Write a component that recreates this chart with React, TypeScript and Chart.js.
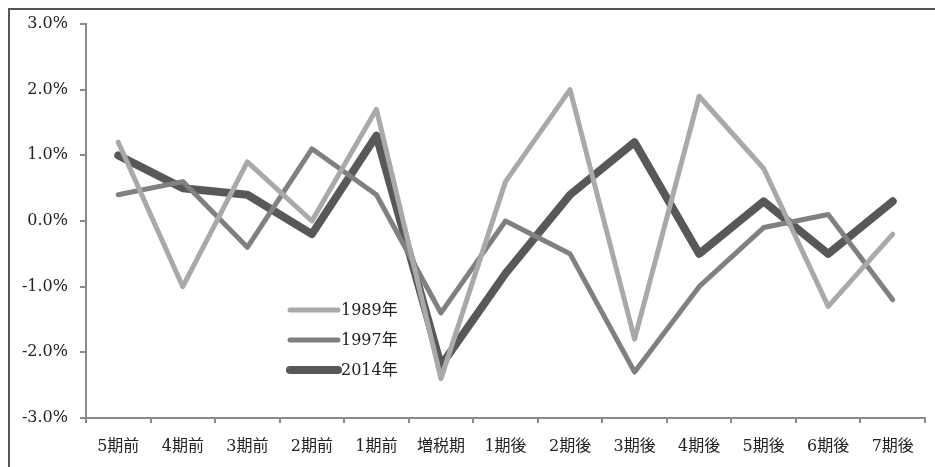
import React, { useEffect, useRef } from "react";
import { Chart, registerables } from "chart.js";

Chart.register(...registerables);

const categories = [
  "5期前", "4期前", "3期前", "2期前", "1期前", "増税期",
  "1期後", "2期後", "3期後", "4期後", "5期後", "6期後", "7期後",
];

const series1989 = [1.2, -1.0, 0.9, 0.0, 1.7, -2.4, 0.6, 2.0, -1.8, 1.9, 0.8, -1.3, -0.2];
const series1997 = [0.4, 0.6, -0.4, 1.1, 0.4, -1.4, 0.0, -0.5, -2.3, -1.0, -0.1, 0.1, -1.2];
const series2014 = [1.0, 0.5, 0.4, -0.2, 1.3, -2.2, -0.8, 0.4, 1.2, -0.5, 0.3, -0.5, 0.3];

const seriesLabels = ["1989年", "1997年", "2014年"];
const yTicks = [-3, -2, -1, 0, 1, 2, 3];

const AXIS_COLOR = "#8a8a8a";
const TEXT_COLOR = "#222222";
const FONT_FAMILY = "'DejaVu Serif', 'Liberation Serif', 'Noto Sans CJK JP', serif";

// Legend drawn inside the plot area, below the left half of the lines
const insideLegend = {
  id: "insideLegend",
  afterDatasetsDraw(chart: any) {
    const { ctx } = chart;
    const x0 = 290;
    const lineLen = 48;
    const rowY = [310, 340, 370];
    ctx.save();
    ctx.font = `16px ${FONT_FAMILY}`;
    ctx.textBaseline = "middle";
    ctx.textAlign = "left";
    chart.data.datasets.forEach((ds: any, i: number) => {
      const y = rowY[i];
      ctx.strokeStyle = ds.borderColor;
      ctx.lineWidth = ds.borderWidth;
      ctx.lineCap = "round";
      ctx.beginPath();
      ctx.moveTo(x0, y);
      ctx.lineTo(x0 + lineLen, y);
      ctx.stroke();
      ctx.fillStyle = TEXT_COLOR;
      ctx.fillText(ds.label, x0 + lineLen + 3, y + 1);
    });
    ctx.restore();
  },
};

export default function App() {
  const canvasRef = useRef<HTMLCanvasElement | null>(null);

  useEffect(() => {
    if (!canvasRef.current) return;
    const lineStyle = {
      pointRadius: 0,
      pointHoverRadius: 0,
      borderJoinStyle: "round" as const,
      borderCapStyle: "round" as const,
      tension: 0,
      fill: false,
    };
    const chart = new Chart(canvasRef.current, {
      type: "line",
      data: {
        labels: categories,
        datasets: [
          { label: seriesLabels[0], data: series1989, borderColor: "#a9a9ab", borderWidth: 5, ...lineStyle },
          { label: seriesLabels[1], data: series1997, borderColor: "#808082", borderWidth: 5, ...lineStyle },
          { label: seriesLabels[2], data: series2014, borderColor: "#58585a", borderWidth: 8, ...lineStyle },
        ],
      },
      options: {
        animation: false,
        responsive: false,
        maintainAspectRatio: false,
        layout: { padding: { left: 0, right: 10, top: 24, bottom: 0 } },
        plugins: {
          legend: { display: false },
          tooltip: { enabled: false },
        },
        scales: {
          x: {
            type: "category",
            offset: true,
            afterFit(scale: any) {
              scale.height = 49;
            },
            grid: {
              offset: true,
              drawOnChartArea: false,
              drawTicks: true,
              tickLength: 5,
              color: AXIS_COLOR,
              lineWidth: 2,
            },
            border: { display: true, color: AXIS_COLOR, width: 2 },
            ticks: {
              color: TEXT_COLOR,
              font: { family: FONT_FAMILY, size: 16 },
              padding: 14,
              maxRotation: 0,
              autoSkip: false,
            },
          },
          y: {
            min: -3,
            max: 3,
            afterFit(scale: any) {
              scale.width = 86;
            },
            afterBuildTicks(scale: any) {
              scale.ticks = yTicks.map((v) => ({ value: v }));
            },
            grid: {
              drawOnChartArea: false,
              drawTicks: true,
              tickLength: 6,
              color: AXIS_COLOR,
              lineWidth: 2,
            },
            border: { display: true, color: AXIS_COLOR, width: 2 },
            ticks: {
              color: TEXT_COLOR,
              font: { family: FONT_FAMILY, size: 16 },
              padding: 12,
              callback: (v: any) => `${Number(v).toFixed(1)}%`,
            },
          },
        },
      },
      plugins: [insideLegend],
    });
    return () => chart.destroy();
  }, []);

  return (
    <div style={{ position: "fixed", left: 0, top: 0, width: 935, height: 467, background: "#fff", overflow: "hidden" }}>
      <div
        style={{
          position: "absolute",
          left: 8,
          top: 8,
          width: 1000,
          height: 1000,
          borderLeft: "2px solid #555",
          borderTop: "2px solid #555",
          boxSizing: "border-box",
        }}
      />
      <canvas ref={canvasRef} width={935} height={467} style={{ position: "absolute", left: 0, top: 0, display: "block" }} />
    </div>
  );
}
